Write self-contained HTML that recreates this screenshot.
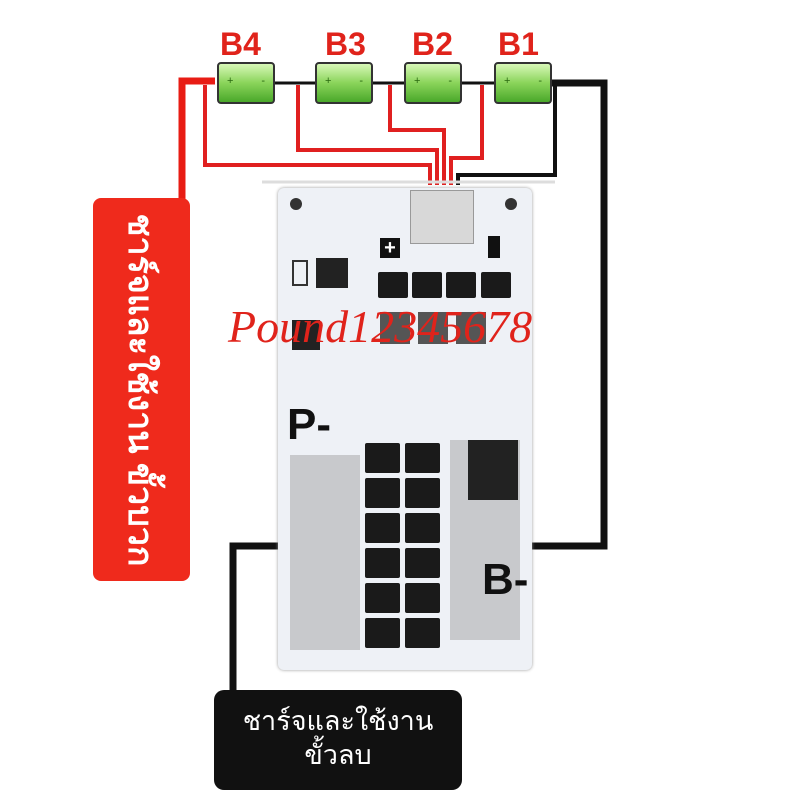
<!DOCTYPE html>
<html><head><style>
body{margin:0;width:800px;height:800px;background:#fff;overflow:hidden;position:relative;font-family:"Liberation Sans","Noto Sans CJK SC",sans-serif}
.abs{position:absolute}
.bat{position:absolute;top:62px;width:58px;height:42px;border:2px solid #333;border-radius:4px;background:linear-gradient(#d8f8b8,#8ad45a 50%,#4aa82a);box-sizing:border-box}
.bat span{position:absolute;top:11px;font-size:11px;color:#2a6a10}
.lbl{position:absolute;top:26px;font-size:32px;font-weight:bold;color:#e0231b}
.mos{position:absolute;width:30px;height:26px;background:#1a1a1a;border-radius:2px}
</style></head><body>
<svg class="abs" style="left:0;top:0" width="800" height="800">
<g fill="none" stroke-linejoin="miter">
<polyline points="205,85 205,165 430,165 430,185" stroke="#e02020" stroke-width="4"/>
<polyline points="298,85 298,150 437,150 437,185" stroke="#e02020" stroke-width="4"/>
<polyline points="390,85 390,130 444,130 444,185" stroke="#e02020" stroke-width="4"/>
<polyline points="482,85 482,158 451,158 451,185" stroke="#e02020" stroke-width="4"/>
<polyline points="555,85 555,175 458,175 458,185" stroke="#111" stroke-width="4"/>
<line x1="275" y1="83" x2="318" y2="83" stroke="#111" stroke-width="3"/>
<line x1="372" y1="83" x2="406" y2="83" stroke="#111" stroke-width="3"/>
<line x1="462" y1="83" x2="495" y2="83" stroke="#111" stroke-width="3"/>
<polyline points="215,81 182,81 182,205" stroke="#e81c14" stroke-width="7"/>
<polyline points="552,83 604,83 604,546 488,546" stroke="#111" stroke-width="7"/>
<polyline points="325,546 233,546 233,695" stroke="#111" stroke-width="7"/>
<line x1="262" y1="182" x2="555" y2="182" stroke="#ddd" stroke-width="3"/>
</g>
</svg>
<div class="lbl" style="left:220px">B4</div>
<div class="lbl" style="left:325px">B3</div>
<div class="lbl" style="left:412px">B2</div>
<div class="lbl" style="left:498px">B1</div>
<div class="bat" style="left:217px"><span style="left:8px">+</span><span style="right:8px">-</span></div>
<div class="bat" style="left:315px"><span style="left:8px">+</span><span style="right:8px">-</span></div>
<div class="bat" style="left:404px"><span style="left:8px">+</span><span style="right:8px">-</span></div>
<div class="bat" style="left:494px"><span style="left:8px">+</span><span style="right:8px">-</span></div>

<div class="abs" style="left:93px;top:198px;width:97px;height:383px;background:#ef2a1c;border-radius:8px"></div>
<div class="abs" style="left:141px;top:390px;width:380px;transform:translate(-50%,-50%) rotate(90deg);text-align:center;color:#fff;font-size:34px;font-weight:bold;white-space:nowrap">ชาร์จและใช้งาน ขั้วบวก</div>

<div class="abs" style="left:278px;top:188px;width:254px;height:482px;background:#eef1f6;border-radius:6px;box-shadow:0 0 3px #999"></div>
<div class="abs" style="left:290px;top:198px;width:12px;height:12px;border-radius:50%;background:#333"></div>
<div class="abs" style="left:505px;top:198px;width:12px;height:12px;border-radius:50%;background:#333"></div>
<div class="abs" style="left:410px;top:190px;width:62px;height:52px;background:#d8d8d8;border:1px solid #999"></div>
<div class="abs" style="left:380px;top:238px;width:20px;height:20px;background:#111;color:#fff;font-size:20px;line-height:20px;text-align:center;font-weight:bold">+</div>
<div class="abs" style="left:488px;top:236px;width:12px;height:22px;background:#111"></div>
<div class="abs" style="left:316px;top:258px;width:32px;height:30px;background:#222"></div>
<div class="abs" style="left:292px;top:260px;width:12px;height:22px;border:2px solid #333"></div>
<div class="mos" style="left:378px;top:272px"></div>
<div class="mos" style="left:412px;top:272px"></div>
<div class="mos" style="left:446px;top:272px"></div>
<div class="mos" style="left:481px;top:272px"></div>
<div class="abs" style="left:380px;top:312px;width:30px;height:32px;background:#555"></div>
<div class="abs" style="left:418px;top:312px;width:30px;height:32px;background:#555"></div>
<div class="abs" style="left:456px;top:312px;width:30px;height:32px;background:#555"></div>
<div class="abs" style="left:292px;top:320px;width:28px;height:30px;background:#222"></div>
<div class="abs" style="left:228px;top:300px;font-family:'Liberation Serif',serif;font-style:italic;font-size:46px;color:#e0231b;white-space:nowrap">Pound12345678</div>
<div class="abs" style="left:287px;top:400px;font-size:44px;font-weight:bold;color:#111">P-</div>
<div class="abs" style="left:290px;top:455px;width:70px;height:195px;background:#c8c9cc"></div>
<div class="abs" style="left:450px;top:440px;width:70px;height:200px;background:#c8c9cc"></div>
<div class="abs" style="left:468px;top:440px;width:50px;height:60px;background:#222"></div>
<div id="m"></div>
<div class="abs" style="left:482px;top:555px;font-size:44px;font-weight:bold;color:#111">B-</div>
<div class="abs" style="left:214px;top:690px;width:248px;height:100px;background:#111;border-radius:10px;color:#fff;font-size:27px;text-align:center;line-height:34px;padding-top:14px;box-sizing:border-box">ชาร์จและใช้งาน<br>ขั้วลบ</div>
<script>
var h='';for(var i=0;i<6;i++){var y=443+i*35;h+='<div class="mos" style="left:365px;top:'+y+'px;width:35px;height:30px"></div><div class="mos" style="left:405px;top:'+y+'px;width:35px;height:30px"></div>';}
document.getElementById('m').outerHTML=h;
</script>
</body></html>
